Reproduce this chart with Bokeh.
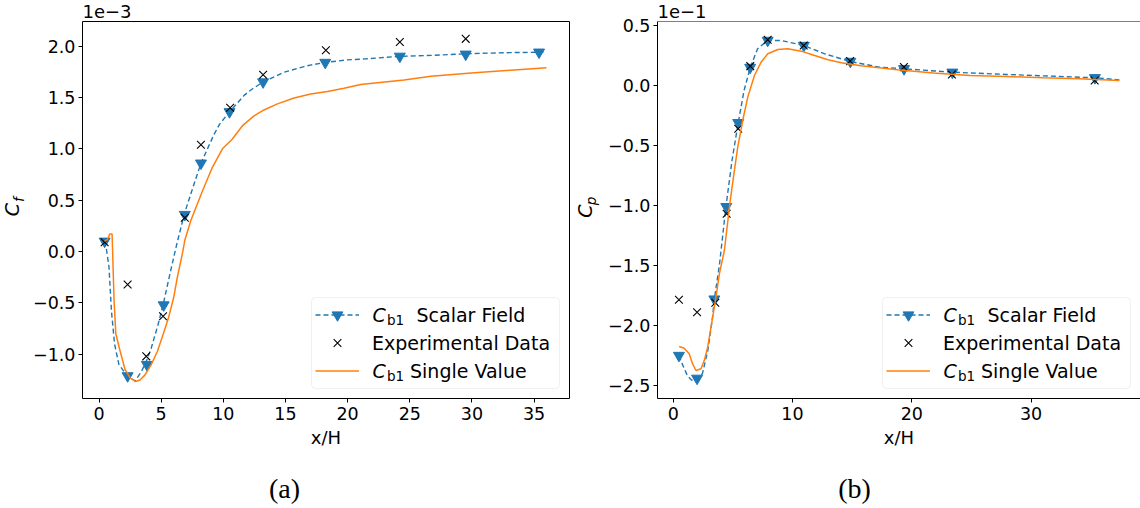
import math
from bokeh.plotting import figure
from bokeh.models import (Range1d, FixedTicker, CustomJSTickFormatter, Legend,
                          LegendItem, Label, Span, BoxAnnotation)
from bokeh.core.properties import value
from bokeh.layouts import row
from bokeh.embed import file_html
from bokeh.resources import INLINE

# ---------------- data: (a) skin friction, values in units of 1e-3 ----------------
cf_scalar_line_x = [0.4, 0.6, 0.8, 1.0, 1.25, 1.6, 2.2, 2.9, 3.4, 3.8, 4.2, 4.75, 5.15,
                    5.7, 6.25, 6.85, 7.38, 8.2, 9.25, 9.7, 10.5, 11.67, 12.3, 13.2, 14.88,
                    16.49, 17.0, 18.2, 19.9, 21.4, 24.2, 27.0, 29.5, 32.5, 35.4, 36.0]
cf_scalar_line_y = [0.10, 0.02, -0.15, -0.58, -0.90, -1.10, -1.20, -1.26, -1.17, -1.07,
                    -0.94, -0.71, -0.52, -0.22, 0.07, 0.36, 0.56, 0.86, 1.14, 1.24, 1.36,
                    1.52, 1.58, 1.65, 1.745, 1.80, 1.815, 1.84, 1.865, 1.875, 1.90, 1.91,
                    1.925, 1.935, 1.94, 1.945]
cf_scalar_mark_x = [0.45, 2.3, 3.85, 5.2, 6.9, 8.2, 10.5, 13.2, 18.2, 24.2, 29.5, 35.4]
cf_scalar_mark_y = [0.10, -1.21, -1.10, -0.52, 0.36, 0.86, 1.36, 1.65, 1.84, 1.90, 1.92, 1.94]
cf_exp_x = [0.45, 2.3, 3.8, 5.15, 6.9, 8.2, 10.55, 13.2, 18.25, 24.2, 29.5]
cf_exp_y = [0.09, -0.32, -1.02, -0.63, 0.33, 1.04, 1.40, 1.72, 1.96, 2.04, 2.07]
cf_single_x = [0.45, 0.7, 0.86, 1.05, 1.13, 1.21, 1.35, 1.55, 1.7, 2.1, 2.5, 2.95, 3.3,
               3.7, 4.2, 4.7, 5.2, 5.6, 6.0, 6.3, 6.74, 6.9, 7.38, 8.32, 9.12, 9.93,
               10.73, 11.54, 12.47, 13.27, 14.35, 15.69, 17.03, 18.37, 19.71, 21.05,
               22.4, 24.54, 26.7, 30.2, 33.1, 36.0]
cf_single_y = [0.10, 0.12, 0.17, 0.17, -0.15, -0.48, -0.80, -0.90, -0.97, -1.15, -1.23,
               -1.265, -1.25, -1.20, -1.10, -0.97, -0.79, -0.64, -0.45, -0.25, 0.0, 0.11,
               0.30, 0.59, 0.82, 1.0, 1.095, 1.225, 1.32, 1.378, 1.437, 1.495, 1.534,
               1.557, 1.589, 1.625, 1.644, 1.67, 1.706, 1.74, 1.765, 1.79]

# ---------------- data: (b) pressure coefficient, values in units of 1e-1 ----------------
cp_scalar_line_x = [0.48, 0.8, 1.2, 1.55, 2.0, 2.45, 2.9, 3.3, 3.45, 3.87, 4.42, 4.93,
                    5.45, 5.94, 6.46, 7.07, 7.92, 9.05, 10.94, 12.7, 14.83, 17.27, 19.34,
                    23.36, 27.9, 35.33, 37.4]
cp_scalar_line_y = [-2.25, -2.33, -2.42, -2.455, -2.45, -2.40, -2.21, -1.93, -1.78, -1.50,
                    -1.01, -0.625, -0.31, -0.042, 0.15, 0.306, 0.375, 0.375, 0.333, 0.264,
                    0.20, 0.153, 0.139, 0.111, 0.092, 0.064, 0.047]
cp_scalar_mark_x = [0.48, 2.0, 3.45, 4.45, 5.45, 6.45, 7.92, 10.95, 14.85, 19.35, 23.4, 35.35]
cp_scalar_mark_y = [-2.25, -2.44, -1.78, -1.01, -0.31, 0.15, 0.375, 0.333, 0.20, 0.139,
                    0.11, 0.064]
cp_exp_x = [0.48, 2.0, 3.53, 4.48, 5.45, 6.46, 7.92, 10.94, 14.83, 19.34, 23.36, 35.33]
cp_exp_y = [-1.786, -1.89, -1.81, -1.069, -0.361, 0.161, 0.381, 0.333, 0.203, 0.153,
            0.092, 0.042]
cp_single_x = [0.5, 0.92, 1.34, 1.63, 1.91, 2.33, 2.61, 2.89, 3.31, 3.59, 3.87, 4.29,
               4.78, 5.09, 5.41, 5.83, 6.25, 6.81, 7.37, 7.93, 8.77, 9.61, 10.73, 11.85,
               12.97, 14.09, 15.75, 18.8, 21.8, 24.9, 27.9, 31.0, 34.0, 37.4]
cp_single_y = [-2.175, -2.19, -2.236, -2.32, -2.375, -2.36, -2.29, -2.18, -1.93, -1.76,
               -1.57, -1.375, -0.96, -0.736, -0.514, -0.29, -0.097, 0.083, 0.194, 0.264,
               0.30, 0.306, 0.286, 0.25, 0.214, 0.19, 0.165, 0.131, 0.103, 0.083, 0.075,
               0.064, 0.056, 0.042]

cf_xticks = [0, 5, 10, 15, 20, 25, 30, 35]
cf_yticks = [-1.0, -0.5, 0.0, 0.5, 1.0, 1.5, 2.0]
cp_xticks = [0, 10, 20, 30]
cp_yticks = [-2.5, -2.0, -1.5, -1.0, -0.5, 0.0, 0.5]

BLUE = "#1f77b4"
ORANGE = "#ff7f0e"
FONT = "DejaVu Sans"
SERIF = "Liberation Serif"

LEG_W = 248
LEG_PAD = 4
LEG_ROW = 27
LEG_SP = 1
LEG_MARGIN = 10
LEG_H = 2 * LEG_PAD + 3 * LEG_ROW + 2 * LEG_SP


def panel(width, bl, br, xr, yr, xticks, yticks, data, ylab, ysub, scale_txt, caption,
          cap_x, full_outline=True):
    H = 508
    bt, bb = 21, 110
    p = figure(width=width, height=H, output_backend="svg", toolbar_location=None,
               title=None, x_range=Range1d(*xr), y_range=Range1d(*yr),
               min_border_left=bl, min_border_right=br, min_border_top=bt,
               min_border_bottom=bb, background_fill_color="white",
               border_fill_color="white")
    W = width - bl - br
    p.xgrid.visible = False
    p.ygrid.visible = False
    if full_outline:
        p.outline_line_color = "black"
        p.outline_line_width = 1
        p.xaxis.axis_line_color = None
        p.yaxis.axis_line_color = None
    else:
        p.outline_line_color = None
        p.xaxis.axis_line_color = "black"
        p.yaxis.axis_line_color = "black"
        p.add_layout(Span(location=yr[1], dimension="width", line_color="black",
                          line_width=1))
    for ax in (p.xaxis, p.yaxis):
        ax.minor_tick_line_color = None
        ax.major_tick_in = 0
        ax.major_tick_out = 4
        ax.major_tick_line_color = "black"
        ax.major_label_text_font = FONT
        ax.major_label_text_font_size = "17.5px"
        ax.major_label_text_color = "black"
    p.xaxis.ticker = FixedTicker(ticks=xticks)
    p.yaxis.ticker = FixedTicker(ticks=yticks)
    p.xaxis.formatter = CustomJSTickFormatter(code="return tick.toFixed(0);")
    p.yaxis.formatter = CustomJSTickFormatter(
        code="return tick.toFixed(1).replace('-', '\u2212');")
    p.xaxis.major_label_standoff = 4
    p.yaxis.major_label_standoff = 3
    p.xaxis.axis_label = "x/H"
    p.xaxis.axis_label_text_font = FONT
    p.xaxis.axis_label_text_font_size = "18px"
    p.xaxis.axis_label_text_font_style = "normal"
    p.xaxis.axis_label_text_color = "black"
    p.xaxis.axis_label_standoff = 4

    lx, ly, mx, my, ex, ey, sx, sy = data
    r_line = p.line(lx, ly, line_color=BLUE, line_dash="5 3", line_width=1.4)
    r_tri = p.scatter(mx, my, marker="inverted_triangle", size=11, fill_color=BLUE,
                      line_color=BLUE)
    r_exp = p.scatter(ex, ey, marker="x", size=11, line_color="black", line_width=1.1)
    r_sv = p.line(sx, sy, line_color=ORANGE, line_width=1.5)

    bx = W - LEG_MARGIN - LEG_W
    # legend frame (drawn beneath the legend glyphs and texts)
    p.add_layout(BoxAnnotation(left=bx, right=bx + LEG_W, bottom=LEG_MARGIN,
                               top=LEG_MARGIN + LEG_H, left_units="screen",
                               right_units="screen", bottom_units="screen",
                               top_units="screen", fill_color="white", fill_alpha=0.8,
                               line_color="#cccccc", line_width=1, border_radius=4))

    leg = Legend(items=[LegendItem(label=value(" "), renderers=[r_line, r_tri]),
                        LegendItem(label=value("Experimental Data"), renderers=[r_exp]),
                        LegendItem(label=value(" "), renderers=[r_sv])],
                 location="bottom_right", margin=LEG_MARGIN, padding=LEG_PAD,
                 spacing=LEG_SP, label_height=LEG_ROW, glyph_height=LEG_ROW,
                 glyph_width=44, label_standoff=13, label_width=LEG_W - 2 * LEG_PAD - 57,
                 label_text_font=FONT, label_text_font_size="19px",
                 label_text_color="black", label_text_baseline="middle",
                 border_line_color="#cccccc", border_line_width=1, border_line_alpha=0.0,
                 background_fill_color="white", background_fill_alpha=0.0)
    p.add_layout(leg)

    tx = bx + LEG_PAD + 44 + 13
    rows_y = [LEG_MARGIN + LEG_PAD + (2 - i) * (LEG_ROW + LEG_SP) + LEG_ROW / 2
              for i in range(3)]

    def lab(x, y, text, size, style="normal", font=FONT, align="left",
            baseline="middle", angle=0.0, units="screen", place=None):
        lbl = Label(x=x, y=y, x_units=units, y_units=units, text=text,
                    text_font=font, text_font_size=size, text_font_style=style,
                    text_color="black", text_align=align, text_baseline=baseline,
                    angle=angle, level="overlay")
        if place is None:
            p.add_layout(lbl)
        else:
            p.add_layout(lbl, place)

    for i, rest, rx in ((0, "Scalar Field", 105), (2, "Single Value", 98.5)):
        lab(tx, rows_y[i], "C", "19px", "italic")
        lab(tx + 14.5, rows_y[i] - 4.5, "b1", "13.5px")
        lab(bx + rx, rows_y[i], rest, "19px")

    # y-axis label with subscript (rotated), canvas coordinates (y from top)
    yl_x, yl_y = ylab
    lab(yl_x, yl_y, "C", "19px", "italic", align="center", angle=math.pi / 2,
        units="canvas", place="left")
    lab(yl_x + ysub[0], yl_y + ysub[1], ysub[2], "13.5px", "italic", align="center",
        angle=math.pi / 2, units="canvas", place="below")
    # offset (scale) text above the frame
    lab(bl, 10.5, scale_txt, "18px", baseline="alphabetic", units="canvas",
        place="above")
    # caption
    lab(cap_x, 488, caption, "28px", font=SERIF, align="center", units="canvas",
        place="below")
    return p


p1 = panel(570, 82, 1, (-1.33, 37.85), (-1.43, 2.239), cf_xticks, cf_yticks,
           (cf_scalar_line_x, cf_scalar_line_y, cf_scalar_mark_x, cf_scalar_mark_y,
            cf_exp_x, cf_exp_y, cf_single_x, cf_single_y),
           (11.5, 209), (6.5, -10, "f"), "1e\u22123", "(a)", 284)
p2 = panel(570, 87, 0, (-1.316, 39.17), (-2.608, 0.533), cp_xticks, cp_yticks,
           (cp_scalar_line_x, cp_scalar_line_y, cp_scalar_mark_x, cp_scalar_mark_y,
            cp_exp_x, cp_exp_y, cp_single_x, cp_single_y),
           (14.5, 210.5), (5.5, -10, "p"), "1e\u22121", "(b)", 284, full_outline=False)

layout = row(p1, p2)
open("out.html", "w").write(file_html(layout, INLINE))
